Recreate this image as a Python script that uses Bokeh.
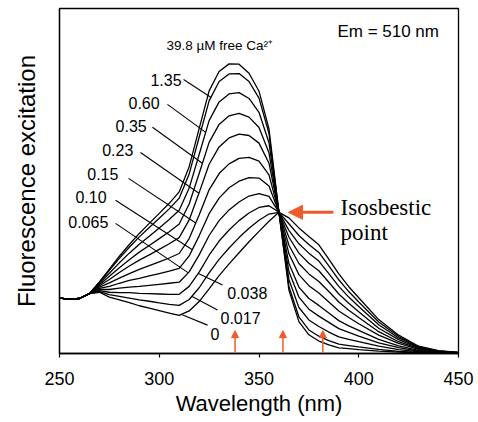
from bokeh.plotting import figure
from bokeh.models import Range1d, FixedTicker, Arrow, NormalHead, Label
from bokeh.embed import file_html
from bokeh.resources import INLINE

# ---------------- data ----------------
wavelength = [250, 255, 260, 265, 270, 275, 280, 285, 290, 295, 300, 305, 310, 315, 320,
              325, 330, 335, 340, 345, 350, 355, 360, 365, 370, 375, 380, 385, 390, 395,
              400, 410, 420, 430, 440, 450]

ca_labels = ["0", "0.017", "0.038", "0.065", "0.10", "0.15", "0.23", "0.35", "0.60", "1.35", "39.8"]

ca_0 = [16.0, 15.7, 15.9, 17.3, 17.7, 16.3, 15.5, 14.7, 13.8, 13.1, 12.4, 11.7, 11.0, 12.3, 15.0, 18.7, 22.5, 25.9, 29.1, 32.3, 35.3, 38.2, 40.8, 39.2, 36.3, 33.8, 31.4, 27.3, 23.0, 19.3, 16.1, 9.8, 5.3, 2.1, 0.8, 0.3]
ca_0017 = [16.0, 15.7, 15.9, 17.3, 17.9, 17.0, 16.5, 16.0, 15.5, 15.1, 14.6, 14.2, 13.9, 15.6, 19.0, 23.3, 27.2, 30.5, 33.5, 36.2, 38.5, 40.3, 40.8, 37.5, 34.1, 31.5, 29.2, 25.3, 21.3, 17.9, 14.9, 9.1, 4.9, 2.0, 0.7, 0.3]
ca_0038 = [16.0, 15.7, 15.9, 17.3, 18.2, 17.7, 17.6, 17.6, 17.4, 17.3, 17.2, 17.1, 17.1, 19.4, 23.5, 28.4, 32.5, 35.7, 38.4, 40.6, 42.2, 42.7, 40.8, 35.6, 31.7, 29.0, 26.7, 23.1, 19.4, 16.3, 13.6, 8.3, 4.5, 1.8, 0.7, 0.3]
ca_0065 = [16.0, 15.7, 15.9, 17.3, 18.5, 18.5, 18.9, 19.2, 19.4, 19.7, 20.0, 20.3, 20.6, 23.6, 28.5, 34.1, 38.4, 41.5, 43.8, 45.5, 46.2, 45.4, 40.8, 33.6, 29.0, 26.1, 23.9, 20.6, 17.2, 14.5, 12.1, 7.3, 4.0, 1.6, 0.6, 0.2]
ca_010 = [16.0, 15.7, 15.9, 17.3, 18.8, 19.4, 20.3, 21.1, 21.7, 22.4, 23.1, 23.8, 24.6, 28.2, 34.0, 40.4, 44.9, 47.9, 49.8, 50.8, 50.7, 48.4, 40.8, 31.3, 26.0, 23.0, 20.8, 17.9, 14.9, 12.5, 10.4, 6.3, 3.4, 1.4, 0.5, 0.2]
ca_015 = [16.0, 15.7, 15.9, 17.3, 19.2, 20.4, 21.8, 23.1, 24.3, 25.4, 26.5, 27.6, 28.9, 33.2, 40.0, 47.3, 52.0, 54.8, 56.4, 56.7, 55.6, 51.6, 40.8, 28.8, 22.8, 19.6, 17.5, 14.9, 12.3, 10.4, 8.6, 5.3, 2.9, 1.2, 0.4, 0.2]
ca_023 = [16.0, 15.7, 15.9, 17.3, 19.6, 21.4, 23.4, 25.3, 27.0, 28.5, 30.1, 31.7, 33.5, 38.6, 46.5, 54.7, 59.7, 62.3, 63.4, 63.0, 60.8, 55.0, 40.8, 26.0, 19.2, 15.9, 13.9, 11.7, 9.5, 8.0, 6.7, 4.1, 2.2, 0.9, 0.3, 0.1]
ca_035 = [16.0, 15.7, 15.9, 17.3, 19.9, 22.3, 24.8, 27.1, 29.3, 31.2, 33.2, 35.2, 37.4, 43.2, 52.0, 61.0, 66.2, 68.7, 69.4, 68.3, 65.3, 58.0, 40.8, 23.7, 16.3, 12.8, 10.8, 9.0, 7.2, 6.1, 5.0, 3.1, 1.7, 0.7, 0.2, 0.1]
ca_060 = [16.0, 15.7, 15.9, 17.3, 20.3, 23.2, 26.2, 29.0, 31.6, 33.9, 36.3, 38.7, 41.4, 47.8, 57.5, 67.3, 72.7, 75.0, 75.4, 73.7, 69.7, 60.9, 40.8, 21.4, 13.3, 9.7, 7.8, 6.2, 4.8, 4.1, 3.4, 2.1, 1.1, 0.5, 0.1, 0.0]
ca_135 = [16.0, 15.7, 15.9, 17.3, 20.6, 24.0, 27.5, 30.7, 33.7, 36.4, 39.1, 41.8, 44.9, 51.9, 62.5, 73.0, 78.6, 80.8, 80.9, 78.6, 73.8, 63.6, 40.8, 19.3, 10.6, 6.8, 5.0, 3.7, 2.7, 2.3, 1.9, 1.2, 0.6, 0.3, 0.0, 0.0]
ca_398 = [16.0, 15.7, 15.9, 17.3, 20.7, 24.4, 28.1, 31.5, 34.7, 37.6, 40.5, 43.4, 46.7, 54.0, 65.0, 75.9, 81.5, 83.7, 83.6, 81.0, 75.8, 64.9, 40.8, 18.3, 9.2, 5.4, 3.6, 2.5, 1.6, 1.4, 1.1, 0.7, 0.4, 0.2, 0.0, 0.0]

series = [ca_0, ca_0017, ca_0038, ca_0065, ca_010, ca_015, ca_023, ca_035, ca_060, ca_135, ca_398]

x_ticks = [250, 300, 350, 400, 450]
marked_wavelengths = [338, 362, 382]
isosbestic_wavelength = 360
isosbestic_level = 40.8

# ---------------- figure ----------------
ORANGE = "#f05a28"
SANS = "Liberation Sans"

p = figure(width=478, height=422, output_backend="svg", toolbar_location=None,
           x_range=Range1d(250, 450), y_range=Range1d(0, 99.7),
           min_border_left=59, min_border_right=20, min_border_top=8, min_border_bottom=69)
p.background_fill_color = "white"
p.border_fill_color = "white"
p.grid.visible = False
p.outline_line_color = "black"
p.outline_line_width = 1.3

xa = p.xaxis[0]
xa.ticker = FixedTicker(ticks=x_ticks)
xa.major_tick_out = 4
xa.major_tick_in = 0
xa.minor_tick_out = 0
xa.minor_tick_in = 0
xa.axis_line_width = 1.5
xa.major_tick_line_width = 1.2
xa.major_label_text_font = SANS
xa.major_label_text_font_size = "18px"
xa.major_label_text_color = "black"
xa.major_label_standoff = 14
xa.axis_label = "Wavelength (nm)"
xa.axis_label_text_font = SANS
xa.axis_label_text_font_size = "22px"
xa.axis_label_text_font_style = "normal"
xa.axis_label_text_color = "black"
xa.axis_label_standoff = 3

ya = p.yaxis[0]
ya.ticker = FixedTicker(ticks=[])
ya.major_tick_out = 0
ya.major_tick_in = 0
ya.minor_tick_out = 0
ya.minor_tick_in = 0
ya.major_label_standoff = 0
ya.axis_line_width = 1.3
ya.axis_label = "Fluorescence excitation"
ya.axis_label_text_font = SANS
ya.axis_label_text_font_size = "24px"
ya.axis_label_text_font_style = "normal"
ya.axis_label_text_color = "black"
ya.axis_label_standoff = 20

for ys in series:
    p.line(wavelength, ys, line_color="black", line_width=1.3)

# curve labels with leader lines: (text, text x, text y, leader start, leader end)
label_specs = [
    ("1.35", 295.6, 78.9, (312.2, 79.2), (326.0, 74.0)),
    ("0.60", 284.6, 72.5, (304.1, 72.0), (323.3, 63.9)),
    ("0.35", 278.1, 65.6, (296.6, 65.4), (321.6, 55.0)),
    ("0.23", 271.4, 58.7, (290.6, 58.1), (319.9, 46.3)),
    ("0.15", 263.9, 52.0, (284.6, 50.6), (318.3, 37.7)),
    ("0.10", 258.0, 45.1, (278.1, 44.3), (316.6, 30.0)),
    ("0.065", 254.4, 37.9, (278.1, 37.6), (314.6, 23.3)),
    ("0.038", 334.1, 17.6, (331.7, 19.8), (319.6, 23.1)),
    ("0.017", 330.7, 10.4, (329.2, 12.6), (316.5, 16.5)),
    ("0", 325.7, 5.5, (324.2, 8.2), (311.5, 11.2)),
]
for txt, tx, ty, (x0, y0), (x1, y1) in label_specs:
    p.add_layout(Label(x=tx, y=ty, text=txt, text_font=SANS, text_font_size="16px",
                       text_color="black", text_baseline="middle", text_align="left"))
    p.segment(x0=[x0], y0=[y0], x1=[x1], y1=[y1], line_color="black", line_width=1.1)

p.add_layout(Label(x=303.6, y=89.0, text="39.8 µM free Ca²⁺", text_font=SANS,
                   text_font_size="13.5px", text_color="black", text_baseline="middle"))
p.add_layout(Label(x=389.3, y=93.1, text="Em = 510 nm", text_font=SANS,
                   text_font_size="17px", text_color="black", text_baseline="middle"))

# isosbestic annotation
p.add_layout(Arrow(end=NormalHead(size=14, fill_color=ORANGE, line_color=ORANGE),
                   x_start=387.3, y_start=isosbestic_level, x_end=isosbestic_wavelength + 4.8,
                   y_end=isosbestic_level, line_color=ORANGE, line_width=3))
p.add_layout(Label(x=390.9, y=42.2, text="Isosbestic", text_font="Liberation Serif",
                   text_font_size="23px", text_color="black", text_baseline="middle"))
p.add_layout(Label(x=390.9, y=35.0, text="point", text_font="Liberation Serif",
                   text_font_size="23px", text_color="black", text_baseline="middle"))

# small excitation arrows
for wl in marked_wavelengths:
    p.add_layout(Arrow(end=NormalHead(size=7, fill_color=ORANGE, line_color=ORANGE),
                       x_start=wl, y_start=0, x_end=wl, y_end=6.6,
                       line_color=ORANGE, line_width=1.5))

open("out.html", "w").write(file_html(p, INLINE))
